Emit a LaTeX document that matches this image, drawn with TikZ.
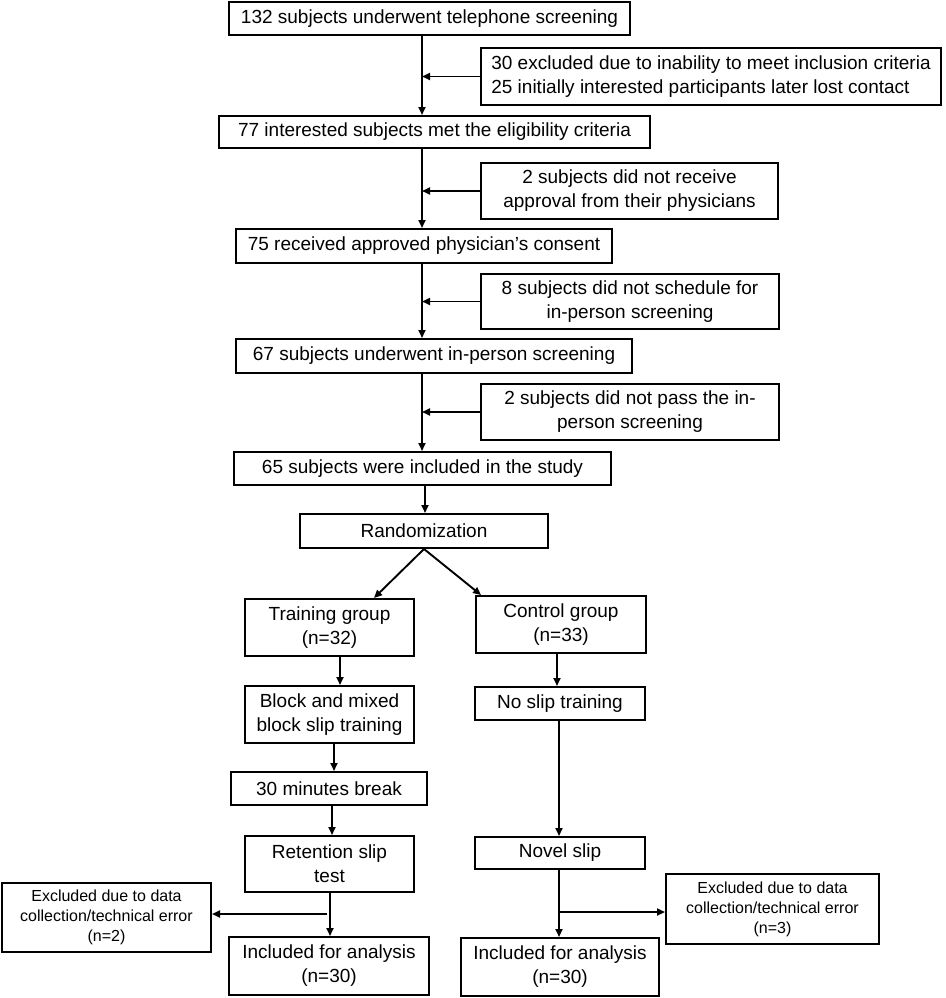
\documentclass[tikz,border=0pt]{standalone}
\usepackage{fontspec}
\setmainfont{Liberation Sans}
\usetikzlibrary{arrows.meta}
\begin{document}
\begin{tikzpicture}[x=1pt,y=-1pt,
  box/.style={draw,line width=2pt,rectangle,inner sep=0pt,align=center,font=\fontsize{19}{24}\selectfont},
  sbox/.style={box,font=\fontsize{16}{20}\selectfont},
  arr/.style={line width=1.9pt,-{Triangle[length=8pt,width=7pt]}}]
\useasboundingbox (0,0) rectangle (945,998);
\node[box,minimum width=401pt,minimum height=33pt] (b1) at (429.5,18.5) {132 subjects underwent telephone screening};
\node[box,align=left,minimum width=460pt,minimum height=57pt] (e1) at (711,76.5) {30 excluded due to inability to meet inclusion criteria\\25 initially interested participants later lost contact};
\node[box,minimum width=431pt,minimum height=32pt] (b2) at (434.5,132) {77 interested subjects met the eligibility criteria};
\node[box,minimum width=297pt,minimum height=56pt] (e2) at (629.5,191) {2 subjects did not receive\\approval from their physicians};
\node[box,minimum width=376pt,minimum height=34pt] (b3) at (424,246) {75 received approved physician’s consent};
\node[box,minimum width=298pt,minimum height=55pt] (e3) at (630,301.5) {8 subjects did not schedule for\\in-person screening};
\node[box,minimum width=396pt,minimum height=34pt] (b4) at (434,356) {67 subjects underwent in-person screening};
\node[box,minimum width=298pt,minimum height=56pt] (e4) at (630,412) {2 subjects did not pass the in-\\person screening};
\node[box,minimum width=377pt,minimum height=33pt] (b5) at (422.5,468.5) {65 subjects were included in the study};
\node[box,minimum width=248pt,minimum height=34pt] (rand) at (424,531) {Randomization};
\node[box,minimum width=169pt,minimum height=57pt] (train) at (329.5,627.5) {Training group\\(n=32)};
\node[box,minimum width=170pt,minimum height=57pt] (ctrl) at (561,624.5) {Control group\\(n=33)};
\node[box,minimum width=169pt,minimum height=57pt] (block) at (329.5,714.5) {Block and mixed\\block slip training};
\node[box,minimum width=170pt,minimum height=33pt] (noslip) at (560,703.5) {No slip training};
\node[box,minimum width=196pt,minimum height=33pt] (brk) at (329,788.5) {30 minutes break};
\node[box,minimum width=169pt,minimum height=56pt] (ret) at (329.5,864) {Retention slip\\test};
\node[box,minimum width=170pt,minimum height=32pt] (novel) at (560,853) {Novel slip};
\node[sbox,minimum width=209pt,minimum height=69pt] (exL) at (106.5,917.5) {Excluded due to data\\collection/technical error\\(n=2)};
\node[box,minimum width=200pt,minimum height=58pt] (incL) at (329,966) {Included for analysis\\(n=30)};
\node[sbox,minimum width=213pt,minimum height=70pt] (exR) at (772.5,909) {Excluded due to data\\collection/technical error\\(n=3)};
\node[box,minimum width=198pt,minimum height=58pt] (incR) at (560,967) {Included for analysis\\(n=30)};
% trunk
\coordinate (m) at (422,0);
\draw[arr] (b1.south -| m) -- (b2.north -| m);
\draw[arr] (b2.south -| m) -- (b3.north -| m);
\draw[arr] (b3.south -| m) -- (b4.north -| m);
\draw[arr] (b4.south -| m) -- (b5.north -| m);
\draw[arr] (e1.west) -- (e1.west -| m);
\draw[arr] (e2.west) -- (e2.west -| m);
\draw[arr] (e3.west) -- (e3.west -| m);
\draw[arr] (e4.west) -- (e4.west -| m);
\coordinate (r) at (425,0);
\draw[arr] (b5.south -| r) -- (rand.north -| r);
\coordinate (tl) at (374,0);
\coordinate (cl) at (481,0);
\draw[arr] (rand.south) -- (train.north -| tl);
\draw[arr] (rand.south) -- (ctrl.north -| cl);
% training branch
\coordinate (t1) at (340,0);
\coordinate (t2) at (334,0);
\coordinate (t3) at (332,0);
\coordinate (t4) at (330,0);
\draw[arr] (train.south -| t1) -- (block.north -| t1);
\draw[arr] (block.south -| t2) -- (brk.north -| t2);
\draw[arr] (brk.south -| t3) -- (ret.north -| t3);
\draw[arr] (ret.south -| t4) -- (incL.north -| t4);
\coordinate (jL) at (327,914);
\draw[arr] (jL) -- (exL.east |- jL);
% control branch
\coordinate (c1) at (557,0);
\coordinate (c2) at (559,0);
\draw[arr] (ctrl.south -| c1) -- (noslip.north -| c1);
\draw[arr] (noslip.south -| c2) -- (novel.north -| c2);
\draw[arr] (novel.south -| c2) -- (incR.north -| c2);
\coordinate (jR) at (560,912);
\draw[arr] (jR) -- (exR.west |- jR);
\end{tikzpicture}
\end{document}
